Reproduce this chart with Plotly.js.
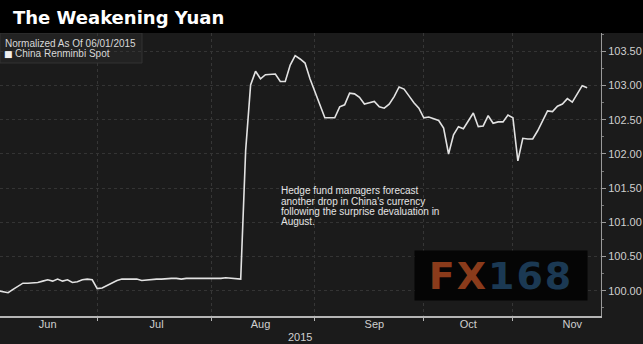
<!DOCTYPE html>
<html>
<head>
<meta charset="utf-8">
<script src="https://cdn.plot.ly/plotly-3.0.1.min.js"></script>
<style>
  html, body { margin: 0; padding: 0; background: #1b1b1b; }
  #chart { width: 643px; height: 344px; }
</style>
</head>
<body>
<div id="chart"></div>
<script>
// ---- data ----
const dates = [
  '2015-06-03','2015-06-04','2015-06-05','2015-06-08','2015-06-09','2015-06-10','2015-06-11','2015-06-12','2015-06-15','2015-06-16',
  '2015-06-17','2015-06-18','2015-06-19','2015-06-22','2015-06-23','2015-06-24','2015-06-25','2015-06-26','2015-06-29','2015-06-30',
  '2015-07-01','2015-07-02','2015-07-03','2015-07-06','2015-07-07','2015-07-08','2015-07-09','2015-07-10','2015-07-13','2015-07-14',
  '2015-07-15','2015-07-16','2015-07-17','2015-07-20','2015-07-21','2015-07-22','2015-07-23','2015-07-24','2015-07-27','2015-07-28',
  '2015-07-29','2015-07-30','2015-07-31',
  '2015-08-03','2015-08-04','2015-08-05','2015-08-06','2015-08-07','2015-08-10','2015-08-11','2015-08-12','2015-08-13','2015-08-14',
  '2015-08-17','2015-08-18','2015-08-19','2015-08-20','2015-08-21','2015-08-24','2015-08-25','2015-08-26','2015-08-27','2015-08-28',
  '2015-08-31',
  '2015-09-01','2015-09-02','2015-09-03','2015-09-04','2015-09-07','2015-09-08','2015-09-09','2015-09-10','2015-09-11','2015-09-14',
  '2015-09-15','2015-09-16','2015-09-17','2015-09-18','2015-09-21','2015-09-22','2015-09-23','2015-09-24','2015-09-25','2015-09-28',
  '2015-09-29','2015-09-30',
  '2015-10-06','2015-10-07','2015-10-08','2015-10-09','2015-10-12','2015-10-13','2015-10-14','2015-10-15','2015-10-16','2015-10-19',
  '2015-10-20','2015-10-21','2015-10-22','2015-10-23','2015-10-26','2015-10-27','2015-10-28','2015-10-29','2015-10-30',
  '2015-11-02','2015-11-03','2015-11-04','2015-11-05','2015-11-06','2015-11-09','2015-11-10','2015-11-11','2015-11-12','2015-11-13',
  '2015-11-16','2015-11-17','2015-11-18','2015-11-19','2015-11-20'
];
const renminbiSpot = [
  100.00, 99.99, 99.97, 100.02, 100.07, 100.11, 100.11, 100.11, 100.12, 100.14,
  100.16, 100.14, 100.17, 100.14, 100.16, 100.12, 100.13, 100.16, 100.17, 100.16,
  100.03, 100.04, 100.08, 100.11, 100.15, 100.17, 100.17, 100.16, 100.17, 100.15,
  100.16, 100.17, 100.17, 100.17, 100.18, 100.18, 100.18, 100.17, 100.18, 100.18,
  100.17, 100.18, 100.18,
  100.17, 100.18, 100.18, 100.19, 100.18, 100.17, 100.17, 102.05, 103.01, 103.21,
  103.10, 103.16, 103.16, 103.17, 103.06, 103.06, 103.30, 103.44, 103.39, 103.33,
  103.10,
  102.91, 102.69, 102.53, 102.53, 102.53, 102.69, 102.72, 102.89, 102.88, 102.83,
  102.73, 102.75, 102.77, 102.69, 102.67, 102.73, 102.84, 102.98, 102.95, 102.85,
  102.75, 102.67,
  102.53, 102.54, 102.52, 102.49, 102.38, 102.00, 102.28, 102.40, 102.37, 102.49,
  102.60, 102.40, 102.41, 102.56, 102.45, 102.47, 102.47, 102.57, 102.53,
  101.90, 102.23, 102.22, 102.22, 102.34, 102.49, 102.63, 102.62, 102.70, 102.73,
  102.81, 102.76, 102.88, 103.00, 102.97
];
const holidays = ['2015-10-01', '2015-10-02', '2015-10-05'];
const titleText = 'The Weakening Yuan';
const legendHeader = 'Normalized As Of 06/01/2015';
const seriesName = 'China Renminbi Spot';
const noteLines = [
  'Hedge fund managers forecast',
  "another drop in China's currency",
  'following the surprise devaluation in',
  'August.'
];
const yearLabel = '2015';

// ---- chart ----
const W = 643, H = 344;
const M = {l: 0, r: 42, t: 33, b: 28};
const plotW = W - M.l - M.r, plotH = H - M.t - M.b;
const txt = '#cfcfcf';
const base = 'Liberation Sans, Arial, sans-serif';

const annotations = [];
annotations.push({
  text: legendHeader, xref: 'paper', yref: 'paper', x: 0, y: 1, xanchor: 'left', yanchor: 'middle',
  xshift: 4, yshift: -10.3, showarrow: false, align: 'left', borderpad: 0,
  font: {family: base, size: 10, color: '#d8d8d8'}
});
annotations.push({
  text: '\u25A0', xref: 'paper', yref: 'paper', x: 0, y: 1, xanchor: 'left', yanchor: 'middle',
  xshift: 3, yshift: -20.5, showarrow: false, borderpad: 0,
  font: {family: 'DejaVu Sans, sans-serif', size: 9, color: '#f0f0f0'}
});
annotations.push({
  text: seriesName, xref: 'paper', yref: 'paper', x: 0, y: 1, xanchor: 'left', yanchor: 'middle',
  xshift: 14, yshift: -20.3, showarrow: false, align: 'left', borderpad: 0,
  font: {family: base, size: 10, color: '#d8d8d8'}
});
noteLines.forEach((t, i) => annotations.push({
  text: t, xref: 'paper', yref: 'paper', x: 280 / plotW, y: (316 - 190.7) / plotH,
  xanchor: 'left', yanchor: 'middle', yshift: -i * 10.3, showarrow: false, align: 'left', borderpad: 0,
  font: {family: base, size: 10, color: '#e4e4e4'}
}));
annotations.push({
  text: yearLabel, xref: 'paper', yref: 'paper', x: 300 / plotW, y: 0, xanchor: 'center',
  yanchor: 'middle', yshift: -21, showarrow: false,
  font: {family: base, size: 11, color: txt}
});
// FX168 watermark present in the reference picture
annotations.push({
  text: '<span style="color:#8a3b1b;letter-spacing:2px">FX</span><span style="color:#1b3953;letter-spacing:2px">168</span>',
  xref: 'paper', yref: 'paper', x: 501 / plotW, y: (316 - 275) / plotH,
  xanchor: 'center', yanchor: 'middle', showarrow: false,
  width: 172, height: 49, borderpad: 0, bgcolor: '#050505',
  font: {family: 'DejaVu Sans, sans-serif', size: 38, weight: 'bold'}
});

const layout = {
  width: W, height: H,
  margin: M,
  paper_bgcolor: '#1b1b1b',
  plot_bgcolor: '#1b1b1b',
  showlegend: false,
  title: {
    text: '<b>' + titleText + '</b>',
    xref: 'container', yref: 'container', x: 13 / W, xanchor: 'left',
    y: 1 - 17.5 / H, yanchor: 'middle',
    font: {family: 'DejaVu Sans, sans-serif', size: 18, color: '#ffffff'}
  },
  xaxis: {
    type: 'date',
    range: ['2015-06-03 08:44', '2015-11-24 19:12'],
    rangebreaks: [{bounds: ['sat', 'mon']}, {values: holidays}],
    // labels sit mid-month; month-start grid lines come from the minor ticks
    tick0: '2015-06-17', dtick: 'M1', tickformat: '%b',
    ticks: '', showgrid: false, ticklabelstandoff: -3,
    minor: {tick0: '2015-06-01', dtick: 'M1', ticks: 'outside', ticklen: 3, tickcolor: '#b5b5b5',
            showgrid: true, gridcolor: '#363636', griddash: 'dot', gridwidth: 1},
    showline: true, linecolor: '#b5b5b5', linewidth: 2,
    tickfont: {family: base, size: 11, color: txt},
    zeroline: false, fixedrange: true
  },
  yaxis: {
    side: 'right',
    range: [99.63, 103.77],
    dtick: 0.5, tick0: 100, tickformat: '.2f',
    showgrid: true, gridcolor: '#343434', griddash: 'dot', gridwidth: 1,
    showline: true, linecolor: '#9a9a9a', linewidth: 1,
    ticks: 'outside', ticklen: 4, tickcolor: '#9a9a9a',
    minor: {dtick: 0.25, ticks: 'outside', ticklen: 2, tickcolor: '#777', showgrid: false},
    tickfont: {family: base, size: 11, color: txt},
    zeroline: false, fixedrange: true
  },
  shapes: [
    {type: 'rect', xref: 'paper', yref: 'paper', x0: -0.01, x1: W / plotW + 0.01,
     y0: 1, y1: 1 + (M.t + 2) / plotH, fillcolor: '#000', line: {width: 0}, layer: 'above'},
    {type: 'rect', xref: 'paper', yref: 'paper', x0: 0, x1: 142 / plotW,
     y0: (316 - 63) / plotH, y1: 1, fillcolor: 'rgba(44,44,44,0.45)',
     line: {color: '#333', width: 1}, layer: 'below'}
  ],
  annotations: annotations
};

const traces = [{
  type: 'scatter', mode: 'lines',
  x: dates, y: renminbiSpot,
  name: seriesName,
  line: {color: '#e2e2e2', width: 1.6},
  hoverinfo: 'skip'
}];

Plotly.newPlot('chart', traces, layout, {staticPlot: true, displayModeBar: false});
</script>
</body>
</html>
